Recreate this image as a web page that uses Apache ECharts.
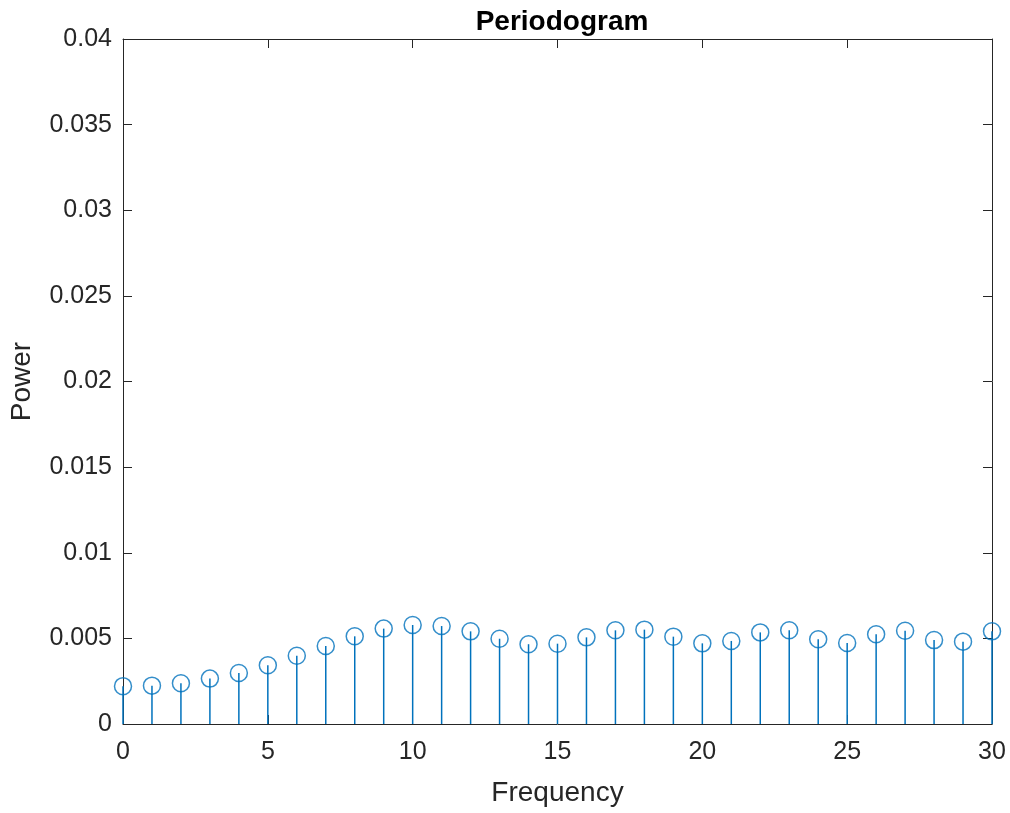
<!DOCTYPE html>
<html><head><meta charset="utf-8">
<script src="https://cdn.jsdelivr.net/npm/echarts@6/dist/echarts.min.js"></script>
<style>html,body{margin:0;padding:0;background:#fff}#c{width:1010px;height:813px}</style>
</head><body><div id="c"></div>
<script>
const frequencies = [0,1,2,3,4,5,6,7,8,9,10,11,12,13,14,15,16,17,18,19,20,21,22,23,24,25,26,27,28,29,30];
const power = [0.00221,0.00224,0.00238,0.00265,0.00298,0.00343,0.00399,0.00455,0.00512,0.00557,0.00578,0.00572,0.00541,0.00498,0.00466,0.00469,0.00506,0.00547,0.00551,0.00510,0.00471,0.00485,0.00535,0.00547,0.00495,0.00473,0.00524,0.00545,0.00490,0.00481,0.00541];
const yTicks = ['0','0.005','0.01','0.015','0.02','0.025','0.03','0.035','0.04'];
const xTicks = ['0','5','10','15','20','25','30'];

const font = 'Liberation Sans, Arial, sans-serif';
const axisColor = '#262626';
const data = frequencies.map((f,i)=>[f,power[i]]);
const chart = echarts.init(document.getElementById('c'));
const baseAxis = {
  axisLine:{show:true,onZero:false,lineStyle:{color:axisColor,width:1}},
  axisTick:{show:true,inside:true,length:9,lineStyle:{color:axisColor}},
  splitLine:{show:false}
};
chart.setOption({
  animation:false,
  title:{text:'Periodogram',left:557,top:3,textAlign:'center',
    textStyle:{fontFamily:font,fontWeight:'bold',fontSize:28,color:'#000'}},
  grid:{left:123,right:18,top:39,bottom:89},
  xAxis:[
    Object.assign({type:'value',min:0,max:30,interval:5,position:'bottom',
      name:'Frequency',nameLocation:'middle',nameGap:55,
      nameTextStyle:{fontFamily:font,fontSize:28,color:axisColor},
      axisLabel:{fontFamily:font,fontSize:25,color:axisColor,margin:16,
        formatter:v=>xTicks[Math.round(v/5)]}},baseAxis),
    Object.assign({type:'value',min:0,max:30,interval:5,position:'top',axisLabel:{show:false}},baseAxis)
  ],
  yAxis:[
    Object.assign({type:'value',min:0,max:0.04,interval:0.005,position:'left',
      name:'Power',nameLocation:'middle',nameGap:87,
      nameTextStyle:{fontFamily:font,fontSize:28,color:axisColor},
      axisLabel:{fontFamily:font,fontSize:25,color:axisColor,margin:11,
        formatter:v=>yTicks[Math.round(v/0.005)]}},baseAxis),
    Object.assign({type:'value',min:0,max:0.04,interval:0.005,position:'right',axisLabel:{show:false}},baseAxis)
  ],
  series:[
    {type:'custom',xAxisIndex:0,yAxisIndex:0,data:data,clip:false,
      renderItem:(params,api)=>{
        const top=api.coord([api.value(0),api.value(1)]);
        const bot=api.coord([api.value(0),0]);
        return {type:'line',shape:{x1:top[0],y1:top[1],x2:bot[0],y2:bot[1]},
          style:{stroke:'#0072BD',lineWidth:1.5}};
      }},
    {type:'scatter',xAxisIndex:0,yAxisIndex:0,data:data,symbol:'circle',symbolSize:17,clip:false,
      itemStyle:{color:'rgba(0,0,0,0)',borderColor:'#0072BD',borderWidth:1.5}}
  ]
});
</script></body></html>
